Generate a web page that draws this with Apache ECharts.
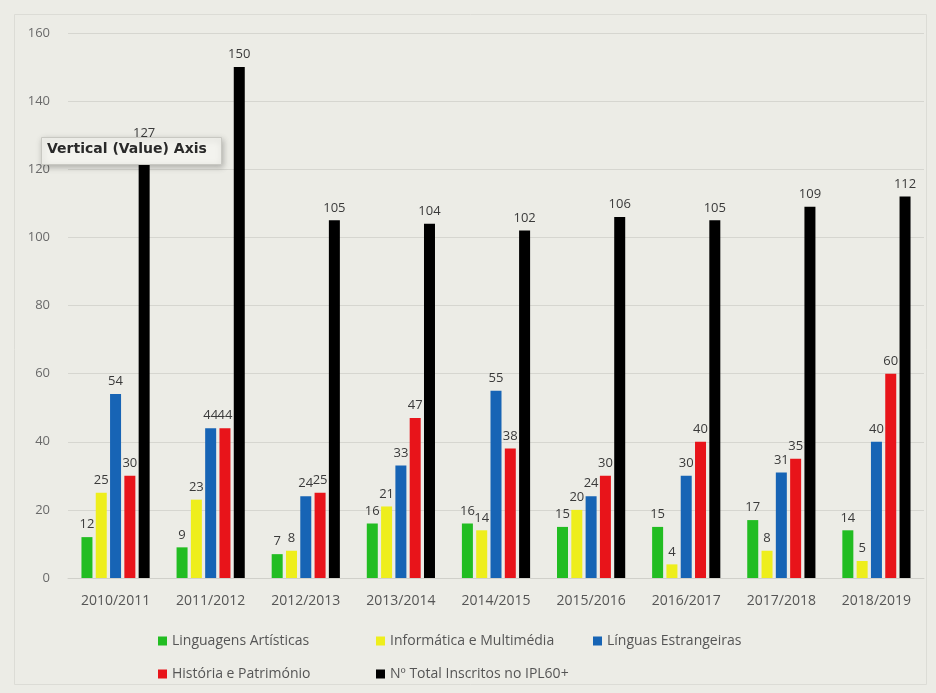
<!DOCTYPE html>
<html>
<head>
<meta charset="utf-8">
<script src="https://cdn.jsdelivr.net/npm/echarts@6/dist/echarts.min.js"></script>
<style>
  html, body { margin: 0; padding: 0; background: #ecece6; }
  #chart { width: 936px; height: 693px; }
</style>
</head>
<body>
<div id="chart"></div>
<script>
// anos lectivos
var anos = ['2010/2011', '2011/2012', '2012/2013', '2013/2014', '2014/2015', '2015/2016', '2016/2017', '2017/2018', '2018/2019'];
var yTicks = [0, 20, 40, 60, 80, 100, 120, 140, 160];

var linguagens = [12, 9, 7, 16, 16, 15, 15, 17, 14];
var informatica = [25, 23, 8, 21, 14, 20, 4, 8, 5];
var linguas = [54, 44, 24, 33, 55, 24, 30, 31, 40];
var historia = [30, 44, 25, 47, 38, 30, 40, 35, 60];
var total = [127, 150, 105, 104, 102, 106, 105, 109, 112];

var nomes = ['Linguagens Artísticas', 'Informática e Multimédia', 'Línguas Estrangeiras', 'História e Património', 'Nº Total Inscritos no IPL60+'];
var cores = ['#22bd22', '#eeee1c', '#1764b5', '#e8141a', '#000000'];
var valores = [linguagens, informatica, linguas, historia, total];

var fonte = '"Open Sans", "Liberation Sans", sans-serif';
var chart = echarts.init(document.getElementById('chart'));

var series = [];
for (var i = 0; i < nomes.length; i++) {
  series.push({
    name: nomes[i],
    type: 'bar',
    data: valores[i],
    barWidth: 11,
    barGap: '30%',
    itemStyle: { color: cores[i] },
    label: {
      show: true,
      position: 'top',
      distance: 6,
      color: '#3a3a3a',
      fontSize: 13,
      fontFamily: fonte
    }
  });
}

// legenda em duas linhas, cada item no seu sitio
var legPos = [[158, 634], [376, 634], [593, 634], [158, 667], [376, 667]];
var legends = [];
for (var j = 0; j < nomes.length; j++) {
  legends.push({
    data: [nomes[j]],
    left: legPos[j][0],
    top: legPos[j][1],
    padding: 0,
    icon: 'rect',
    itemWidth: 9,
    itemHeight: 9,
    selectedMode: false,
    textStyle: { color: '#555', fontSize: 14, fontFamily: fonte }
  });
}

chart.setOption({
  backgroundColor: '#ecece6',
  animation: false,
  grid: { left: 68, right: 12, top: 33, bottom: 115 },
  legend: legends,
  xAxis: {
    type: 'category',
    data: anos,
    axisLine: { lineStyle: { color: '#d0d0ca' } },
    axisTick: { show: false },
    axisLabel: { color: '#555', fontSize: 14, margin: 16, fontFamily: fonte }
  },
  yAxis: {
    type: 'value',
    min: yTicks[0],
    max: yTicks[yTicks.length - 1],
    interval: 20,
    axisLine: { show: false },
    axisTick: { show: false },
    axisLabel: { color: '#6a6a6a', fontSize: 13, margin: 18, fontFamily: fonte },
    splitLine: { lineStyle: { color: '#d6d6d0', width: 1 } }
  },
  series: series,
  graphic: [
    {
      type: 'rect',
      left: 12, top: 12,
      shape: { width: 912, height: 670 },
      style: { fill: 'none', stroke: '#dcdcd6', lineWidth: 1 },
      silent: true
    },
    {
      type: 'rect',
      left: 41, top: 137,
      shape: { width: 180, height: 27 },
      style: {
        fill: '#f3f3ee', stroke: '#c8c8c2', lineWidth: 1,
        shadowBlur: 6, shadowColor: 'rgba(0,0,0,0.25)', shadowOffsetX: 1, shadowOffsetY: 2
      },
      z: 100
    },
    {
      type: 'text',
      left: 47, top: 142,
      style: { text: 'Vertical (Value) Axis', fill: '#2a2a2a', font: 'bold 14px "DejaVu Sans", sans-serif' },
      z: 101
    }
  ]
});
</script>
</body>
</html>
